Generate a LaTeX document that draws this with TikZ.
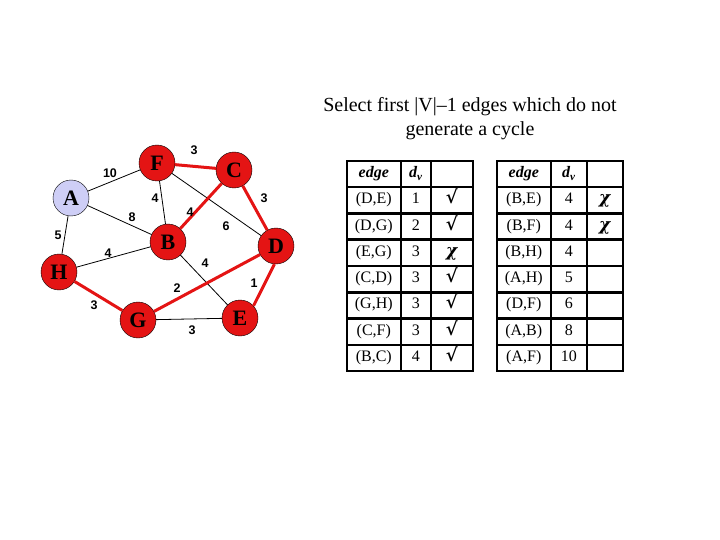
\documentclass[tikz,border=0pt]{standalone}
\usepackage{fontspec}
\setmainfont{Liberation Serif}
\newfontfamily\labfont{Liberation Sans}
\newfontfamily\symfont{DejaVu Serif}
\usepackage{tikz}
\usetikzlibrary{positioning,calc,matrix,shapes}

\definecolor{vred}{RGB}{228,20,20}
\definecolor{vblue}{RGB}{206,206,246}
\newcommand{\okmark}{{\symfont\bfseries\itshape\fontsize{18}{18}\selectfont √}}
\newcommand{\cycmark}{{\symfont\bfseries\itshape\fontsize{17}{17}\selectfont χ}}

\begin{document}
\begin{tikzpicture}[x=1pt,y=-1pt,
  vert/.style={circle,draw=black,fill=vred,minimum size=36pt,inner sep=0pt,
    font=\fontsize{22}{22}\selectfont\bfseries},
  elab/.style={font=\labfont\fontsize{12.5}{12.5}\selectfont\bfseries,inner sep=1pt},
  tree/.style={draw=vred,line width=3pt},
  tab/.style={matrix of nodes,nodes in empty cells,anchor=north west,
    row sep=-2.5pt,column sep=-2.5pt,
    nodes={draw,line width=2.5pt,minimum height=26.3pt,inner sep=0pt,
      text height=11pt,text depth=4pt,font=\fontsize{16}{16}\selectfont}},
  hd/.style={font=\fontsize{16}{16}\selectfont\bfseries\itshape}
  ]
\useasboundingbox (0,0) rectangle (720,540);
%\draw[help lines,step=20] (0,0) grid (720,540);

\node[align=center,font=\fontsize{20}{24}\selectfont] (title) at (470,119)
  {Select first |V|–1 edges which do not\\generate a cycle};

% graph
\node[vert,fill=vblue] (A) at (71,198) {A};
\node[vert] (F) at (157,163) {F};
\node[vert] (C) at (234,170) {C};
\node[vert] (B) at (168,242) {B};
\node[vert] (D) at (276,246) {D};
\node[vert] (H) at (59,272) {H};
\node[vert] (G) at (138,320) {G};
\node[vert] (E) at (240,318) {E};

\foreach \u/\v in {A/F,A/B,A/H,F/B,F/D,H/B,B/E,G/E}
  \draw[line width=0.8pt] (\u) -- (\v);
\foreach \u/\v in {F/C,B/C,C/D,H/G,G/D}
  \draw[tree] (\u) -- (\v);
\draw[tree] (D.265) -- (E.42);

\foreach \n/\p/\t in {AF/{110,173}/10,FC/{194,150}/3,FB/{155,198}/4,
    AB/{132,217}/8,BC/{190,212}/4,FD/{226,226}/6,CD/{264,198}/3,
    AH/{58,235}/5,HB/{108,253}/4,BE/{205,263}/4,GD/{177,288}/2,
    DE/{254,283}/1,HG/{94,305}/3,GE/{192,330}/3}
  \node[elab] (l-\n) at (\p) {\t};

% tables
\matrix[tab,column 1/.style={nodes={minimum width=54pt}},
  column 2/.style={nodes={minimum width=30pt}},
  column 3/.style={nodes={minimum width=42pt}}] (tabL) at (342,156) {
  |[hd]| edge & |[hd]| d\textsubscript{v} & \\
  (D,E) & 1 & \okmark \\
  (D,G) & 2 & \okmark \\
  (E,G) & 3 & \cycmark \\
  (C,D) & 3 & \okmark \\
  (G,H) & 3 & \okmark \\
  (C,F) & 3 & \okmark \\
  (B,C) & 4 & \okmark \\
};

\matrix[tab,column 1/.style={nodes={minimum width=54pt}},
  column 2/.style={nodes={minimum width=36pt}},
  column 3/.style={nodes={minimum width=36pt}}] (tabR) at (492,156) {
  |[hd]| edge & |[hd]| d\textsubscript{v} & \\
  (B,E) & 4 & \cycmark \\
  (B,F) & 4 & \cycmark \\
  (B,H) & 4 & \\
  (A,H) & 5 & \\
  (D,F) & 6 & \\
  (A,B) & 8 & \\
  (A,F) & 10 & \\
};
\end{tikzpicture}
\end{document}
